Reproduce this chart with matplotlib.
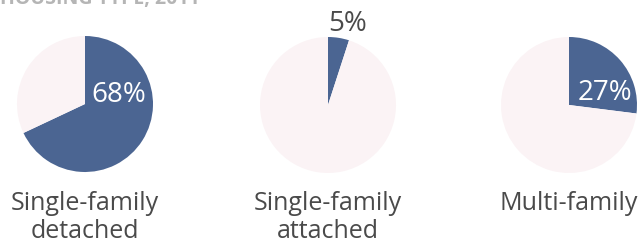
import matplotlib
matplotlib.use("Agg")
import matplotlib.pyplot as plt

categories = ["Single-family\ndetached", "Single-family\nattached", "Multi-family"]
shares = [68, 5, 27]
pct_labels = ["68%", "5%", "27%"]

blue = "#4b6592"
pale = "#fbf3f5"
grey = "#4a4a4a"

W, H = 642, 245
fig = plt.figure(figsize=(W / 100, H / 100), dpi=100)
plt.rcParams['font.family'] = ['Open Sans', 'DejaVu Sans']

# pie centres and radius in pixels (from top-left)
centres = [(85, 104), (328, 105), (569, 105)]
r = 68
# where the % label sits, relative to the pie (radius units)
label_pos = [(0.50, 0.13), (0.29, 1.19), (0.53, 0.18)]
label_col = ["white", grey, "white"]

for i, (cx, cy) in enumerate(centres):
    ax = fig.add_axes([(cx - r) / W, (H - cy - r) / H, 2 * r / W, 2 * r / H])
    ax.pie([shares[i], 100 - shares[i]], colors=[blue, pale], startangle=90,
           counterclock=False, radius=1, wedgeprops=dict(linewidth=0))
    ax.set_xlim(-1, 1)
    ax.set_ylim(-1, 1)
    ax.set_aspect("equal")
    ax.axis("off")
    lx, ly = label_pos[i]
    ax.text(lx, ly, pct_labels[i], ha="center", va="center", fontsize=20,
            color=label_col[i], clip_on=False)
    # first line's baseline at ~210 px, 28 px between lines
    nlines = categories[i].count("\n") + 1
    base = 210 + 28 * (nlines - 1)
    fig.text(cx / W, 1 - base / H, categories[i], ha="center", va="baseline",
             fontsize=18, color=grey, linespacing=1.16, multialignment="center")

# title cut off at the top edge
fig.text(0.0, 1 - 4 / H, "HOUSING TYPE, 2011", ha="left", va="baseline",
         fontsize=14, fontweight="bold", color="#b5b5b5")

fig.savefig("out.png", dpi=100)
